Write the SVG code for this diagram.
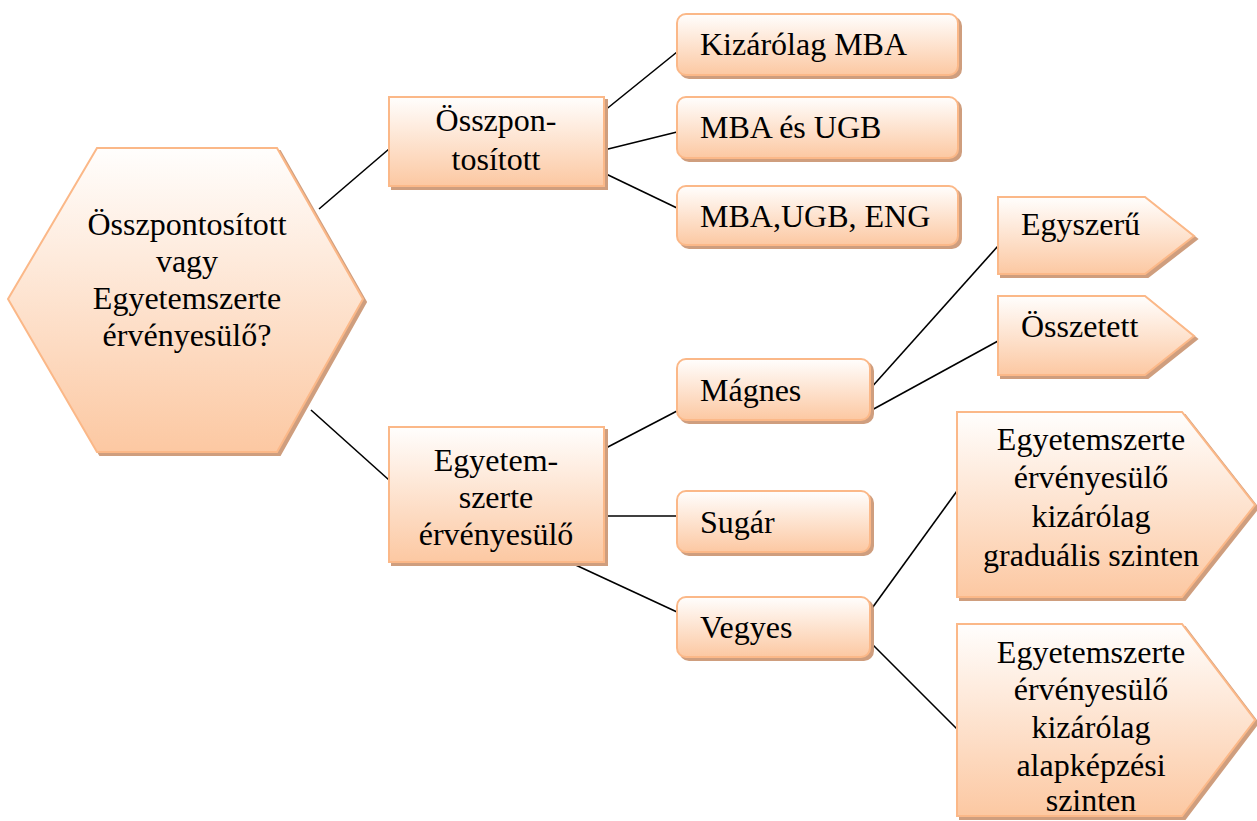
<svg xmlns="http://www.w3.org/2000/svg" width="1257" height="821" viewBox="0 0 1257 821">
<defs>
<linearGradient id="peach" x1="0" y1="0" x2="0" y2="1">
<stop offset="0" stop-color="#fffefd"/>
<stop offset="1" stop-color="#fcc8a2"/>
</linearGradient>
<filter id="shadow" x="-5%" y="-5%" width="115%" height="115%">
<feOffset in="SourceAlpha" dx="3" dy="3" result="off"/>
<feFlood flood-color="#cf9e7e"/>
<feComposite in2="off" operator="in" result="sh"/>
<feMerge><feMergeNode in="sh"/><feMergeNode in="SourceGraphic"/></feMerge>
</filter>
</defs>
<style>
.shape{fill:url(#peach);stroke:#fbb888;stroke-width:2;filter:url(#shadow)}
text{font-family:'Liberation Serif',Tinos,'Times New Roman','DejaVu Serif',serif;font-size:32px;fill:#000}
.c{text-anchor:middle}
.conn line{stroke:#000;stroke-width:1.6}
</style>
<rect width="1257" height="821" fill="#fff"/>
<g class="conn">
<line x1="319" y1="209" x2="389" y2="149"/>
<line x1="311" y1="410" x2="389" y2="480"/>
<line x1="604" y1="111" x2="677" y2="52"/>
<line x1="604" y1="150" x2="677" y2="132"/>
<line x1="604" y1="173" x2="677" y2="208"/>
<line x1="604" y1="449" x2="677" y2="411"/>
<line x1="604" y1="516" x2="677" y2="516"/>
<line x1="567" y1="561" x2="677" y2="612"/>
<line x1="870" y1="389" x2="998" y2="246"/>
<line x1="870" y1="411" x2="998" y2="341"/>
<line x1="870" y1="611" x2="957" y2="491"/>
<line x1="870" y1="642" x2="957" y2="729"/>
</g>
<g id="root">
<polygon class="shape" points="97,148 277,148 363,299 277,452 97,452 8,299"/>
<text class="c" x="187" y="235">Összpontosított</text>
<text class="c" x="187" y="272">vagy</text>
<text class="c" x="187" y="309">Egyetemszerte</text>
<text class="c" x="187" y="346">érvényesülő?</text>
</g>
<g id="osszpontositott">
<rect class="shape" x="389" y="97" width="215" height="89"/>
<text class="c" x="496" y="131">Összpon-</text>
<text class="c" x="496" y="170">tosított</text>
</g>
<g id="egyetemszerte">
<rect class="shape" x="389" y="427" width="215" height="135"/>
<text class="c" x="496" y="471">Egyetem-</text>
<text class="c" x="496" y="508">szerte</text>
<text class="c" x="496" y="545">érvényesülő</text>
</g>
<g id="kizarolag-mba">
<rect class="shape" x="677" y="14" width="281" height="61" rx="9"/>
<text x="700" y="55">Kizárólag MBA</text>
</g>
<g id="mba-es-ugb">
<rect class="shape" x="677" y="97" width="281" height="61" rx="9"/>
<text x="700" y="138">MBA és UGB</text>
</g>
<g id="mba-ugb-eng">
<rect class="shape" x="677" y="186" width="281" height="59" rx="9"/>
<text x="700" y="227">MBA,UGB, ENG</text>
</g>
<g id="magnes">
<rect class="shape" x="677" y="359" width="193" height="61" rx="9"/>
<text x="700" y="401">Mágnes</text>
</g>
<g id="sugar">
<rect class="shape" x="677" y="491" width="193" height="61" rx="9"/>
<text x="700" y="533">Sugár</text>
</g>
<g id="vegyes">
<rect class="shape" x="677" y="597" width="193" height="60" rx="9"/>
<text x="700" y="638">Vegyes</text>
</g>
<g id="egyszeru">
<polygon class="shape" points="998,197 1145,197 1194,236 1145,274 998,274"/>
<text x="1021" y="235">Egyszerű</text>
</g>
<g id="osszetett">
<polygon class="shape" points="998,296 1145,296 1194,336 1145,375 998,375"/>
<text x="1021" y="337">Összetett</text>
</g>
<g id="gradualis">
<polygon class="shape" points="957,412 1182,412 1255,505 1182,597 957,597"/>
<text class="c" x="1091" y="450">Egyetemszerte</text>
<text class="c" x="1091" y="488">érvényesülő</text>
<text class="c" x="1091" y="527">kizárólag</text>
<text class="c" x="1091" y="566">graduális szinten</text>
</g>
<g id="alapkepzesi">
<polygon class="shape" points="957,624 1182,624 1255,720 1182,816 957,816"/>
<text class="c" x="1091" y="663">Egyetemszerte</text>
<text class="c" x="1091" y="700">érvényesülő</text>
<text class="c" x="1091" y="738">kizárólag</text>
<text class="c" x="1091" y="776">alapképzési</text>
<text class="c" x="1091" y="811">szinten</text>
</g>
</svg>
